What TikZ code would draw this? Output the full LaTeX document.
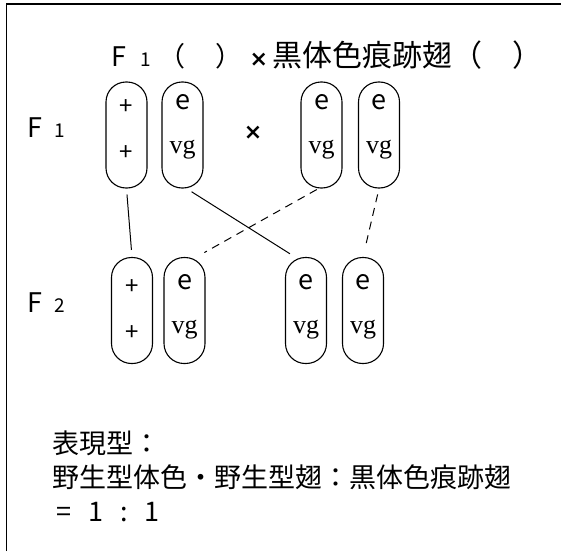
\documentclass[tikz,border=0pt]{standalone}
\usepackage{fontspec}
\setmainfont{Noto Sans CJK JP}
\newfontfamily\vgfont{Liberation Serif}
\newfontfamily\crossfont{DejaVu Sans}
\newcommand{\crossmark}{{\crossfont\bfseries\fontsize{22}{24}\selectfont ×}}
\tikzset{
  chrom/.style={draw, line width=1.1pt, rounded corners=20pt, minimum width=41pt, minimum height=106pt, inner sep=0pt},
  big/.style={font=\fontsize{27}{32}\selectfont, inner sep=0pt},
  gene/.style={font=\fontsize{24}{26}\selectfont, inner sep=0pt},
  vg/.style={font=\vgfont\fontsize{26}{28}\selectfont, inner sep=0pt},
  link/.style={line width=1pt},
  dlink/.style={line width=1pt, dash pattern=on 8pt off 6pt}
}
\begin{document}
\begin{tikzpicture}[x=1pt,y=-1pt]
\useasboundingbox (0,0) rectangle (561,551);
\draw[line width=1.4pt] (6.5,551) -- (6.5,4) -- (561,4);

% title
\node[big, anchor=west] (title) at (111,55) {F\hspace{14pt}{\fontsize{19}{20}\selectfont 1}\hspace{8pt}（\hspace{30pt}）\hspace{7pt}\crossmark\hspace{4pt}{\fontsize{30}{32}\selectfont 黒体色痕跡翅（\hspace{30pt}）}};

% labels
\node[big, anchor=west] (f1) at (27,128) {F\hspace{12pt}{\fontsize{19}{20}\selectfont 1}};
\node[big, anchor=west] (f2) at (27,303) {F\hspace{12pt}{\fontsize{19}{20}\selectfont 2}};
\node[inner sep=0pt] (cross) at (253,133) {\crossmark};

% F1 chromosomes
\node[chrom] (a1) at (126.5,135) {};
\node[chrom] (a2) at (182.5,135) {};
\node[chrom] (a3) at (321.5,135) {};
\node[chrom] (a4) at (379,135) {};
\node[gene] (a1t) at (126.5,107) {+};
\node[gene] (a1b) at (126.5,153) {+};
\node[big] (a2t) at (182.5,102) {e};
\node[vg] (a2b) at (182.5,150) {vg};
\node[big] (a3t) at (321.5,102) {e};
\node[vg] (a3b) at (321.5,150) {vg};
\node[big] (a4t) at (379,102) {e};
\node[vg] (a4b) at (379,150) {vg};

% F2 chromosomes
\node[chrom] (b1) at (132,310.5) {};
\node[chrom] (b2) at (184.5,310.5) {};
\node[chrom] (b3) at (306,310.5) {};
\node[chrom] (b4) at (363,310.5) {};
\node[gene] (b1t) at (132,287) {+};
\node[gene] (b1b) at (132,333) {+};
\node[big] (b2t) at (184.5,282) {e};
\node[vg] (b2b) at (184.5,330) {vg};
\node[big] (b3t) at (306,282) {e};
\node[vg] (b3b) at (306,330) {vg};
\node[big] (b4t) at (363,282) {e};
\node[vg] (b4b) at (363,330) {vg};

% connectors
\draw[link, shorten <=6pt, shorten >=7pt] (a1.south) -- (b1.north);
\draw[link, shorten <=6pt, shorten >=6pt] ([xshift=4pt]a2.south) -- ([xshift=-11pt]b3.north);
\draw[dlink, shorten <=2pt, shorten >=9pt] ([xshift=-3pt]a3.south) -- ([xshift=12pt]b2.north);
\draw[dlink, shorten <=6pt, shorten >=14pt] (a4.south) -- (b4.north);

% bottom text
\node[big, anchor=west] (pheno) at (52,443) {表現型：};
\node[big, anchor=west] (ratio) at (52,477) {野生型体色・野生型翅：黒体色痕跡翅};
\node[big, anchor=west] (eq) at (56,512) {=\hspace{17pt}1\hspace{17pt}:\hspace{17pt}1};
\end{tikzpicture}
\end{document}
